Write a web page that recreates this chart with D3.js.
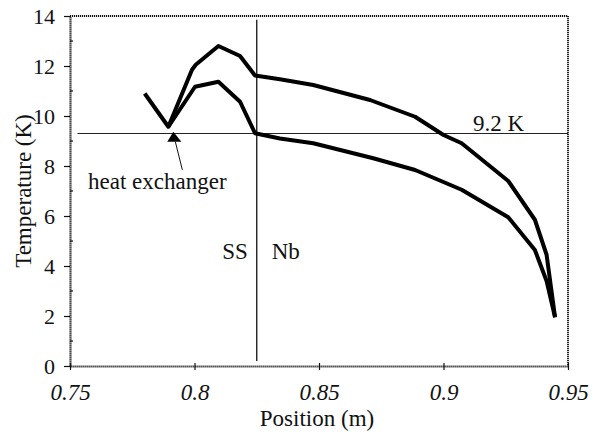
<!DOCTYPE html>
<html><head><meta charset="utf-8">
<script src="https://cdn.jsdelivr.net/npm/d3@7"></script>
<style>body{margin:0;background:#fff}svg{display:block}</style>
</head><body><svg id="c" width="596" height="434"></svg>
<script>
// Data
const xTicks = [0.75, 0.8, 0.85, 0.9, 0.95];
const xTickLabels = ["0.75", "0.8", "0.85", "0.9", "0.95"];
const yTicks = [0, 2, 4, 6, 8, 10, 12, 14];
const yMinorTicks = [1, 3, 5, 7, 9, 11, 13];
const upperX = [0.780, 0.7895, 0.799, 0.8005, 0.8096, 0.8183, 0.8243, 0.8343, 0.8477, 0.8705, 0.8886, 0.900, 0.9073, 0.926, 0.9367, 0.9414, 0.9448];
const upperY = [10.9, 9.57, 11.85, 12.05, 12.8, 12.4, 11.62, 11.47, 11.24, 10.64, 9.97, 9.24, 8.91, 7.4, 5.85, 4.45, 1.95];
const lowerX = [0.7895, 0.8002, 0.8096, 0.8183, 0.8243, 0.8343, 0.8477, 0.8718, 0.8886, 0.9073, 0.926, 0.9367, 0.9414, 0.9448];
const lowerY = [9.57, 11.17, 11.37, 10.57, 9.31, 9.1, 8.91, 8.31, 7.84, 7.05, 5.95, 4.64, 3.4, 1.95];
const boundaryX = 0.825;         // SS / Nb junction
const criticalT = 9.3;           // drawn line labelled 9.2 K
const arrowTip = [0.7915, 9.37]; // heat exchanger pointer

const svg = d3.select("#c");
const x = d3.scaleLinear().domain([0.75, 0.95]).range([70, 568]);
const y = d3.scaleLinear().domain([0, 14]).range([366, 16]);

// frame (top/right dotted-looking)
const frame = svg.append("g").attr("stroke", "#111").attr("fill", "none");
frame.append("line").attr("x1", x(0.75)).attr("x2", x(0.95)).attr("y1", y(14)).attr("y2", y(14))
  .attr("stroke-width", 1.8).attr("stroke-dasharray", "1.2,0.8");
frame.append("line").attr("x1", x(0.95)).attr("x2", x(0.95)).attr("y1", y(14)).attr("y2", y(0))
  .attr("stroke-width", 1.8).attr("stroke-dasharray", "1.2,0.8");

// axes
const xAxis = svg.append("g").attr("transform", `translate(0,${y(0)})`)
  .call(d3.axisBottom(x).tickValues(xTicks).tickFormat((d, i) => xTickLabels[i]).tickSize(4).tickSizeOuter(0).tickPadding(14));
xAxis.select(".domain").attr("stroke", "#111").attr("stroke-width", 2).attr("stroke-dasharray", "1.2,0.8");
xAxis.selectAll(".tick line").attr("stroke", "#111").attr("stroke-width", 1.2).attr("y1", -3);
xAxis.selectAll(".tick text").attr("font-size", 23).attr("font-style", "italic").attr("fill", "#111");

const yAxis = svg.append("g").attr("transform", `translate(${x(0.75)},0)`)
  .call(d3.axisLeft(y).tickValues(yTicks).tickSize(6).tickSizeOuter(0).tickPadding(9));
yAxis.select(".domain").attr("stroke", "#111").attr("stroke-width", 2.2).attr("stroke-dasharray", "1.2,0.8");
yAxis.selectAll(".tick line").attr("stroke", "#111").attr("stroke-width", 1.2);
yAxis.selectAll(".tick text").attr("font-size", 22).attr("fill", "#111");
svg.append("g").selectAll("line").data(yMinorTicks).join("line")
  .attr("x1", x(0.75)).attr("x2", x(0.75) + 3).attr("y1", d => y(d)).attr("y2", d => y(d))
  .attr("stroke", "#111").attr("stroke-width", 1.2);

// reference lines
svg.append("line").attr("x1", x(boundaryX)).attr("x2", x(boundaryX)).attr("y1", y(13.85)).attr("y2", y(0.2))
  .attr("stroke", "#111").attr("stroke-width", 1.3);
svg.append("line").attr("x1", x(0.753)).attr("x2", x(0.95)).attr("y1", y(criticalT)).attr("y2", y(criticalT))
  .attr("stroke", "#222").attr("stroke-width", 1.2);

// curves
const line = d3.line().x(d => x(d[0])).y(d => y(d[1]));
const upper = upperX.map((v, i) => [v, upperY[i]]);
const lower = lowerX.map((v, i) => [v, lowerY[i]]);
[upper, lower].forEach(s => svg.append("path").datum(s).attr("d", line)
  .attr("fill", "none").attr("stroke", "#000").attr("stroke-width", 4).attr("stroke-linejoin", "round"));

// arrow
const tx = x(arrowTip[0]), ty = y(arrowTip[1]);
svg.append("path").attr("d", `M${tx},${ty} L${tx - 6},${ty + 10} L${tx + 8},${ty + 10} Z`).attr("fill", "#000");
svg.append("line").attr("x1", tx + 2).attr("y1", ty + 10).attr("x2", tx + 9).attr("y2", ty + 38)
  .attr("stroke", "#111").attr("stroke-width", 1);

// texts
svg.append("text").attr("x", 88).attr("y", 189).attr("font-size", 23).text("heat exchanger");
svg.append("text").attr("x", x(boundaryX) - 9).attr("y", 259).attr("font-size", 23).attr("text-anchor", "end").text("SS");
svg.append("text").attr("x", x(boundaryX) + 15).attr("y", 259).attr("font-size", 23).text("Nb");
svg.append("text").attr("x", 473).attr("y", 131).attr("font-size", 23).text("9.2 K");
svg.append("text").attr("x", 317).attr("y", 426).attr("font-size", 23).attr("text-anchor", "middle").text("Position (m)");
svg.append("text").attr("transform", "translate(31,191) rotate(-90)").attr("font-size", 23).attr("text-anchor", "middle").text("Temperature (K)");

svg.selectAll("text").style("font-family", "'Liberation Serif'").style("fill", "#111");
</script></body></html>
